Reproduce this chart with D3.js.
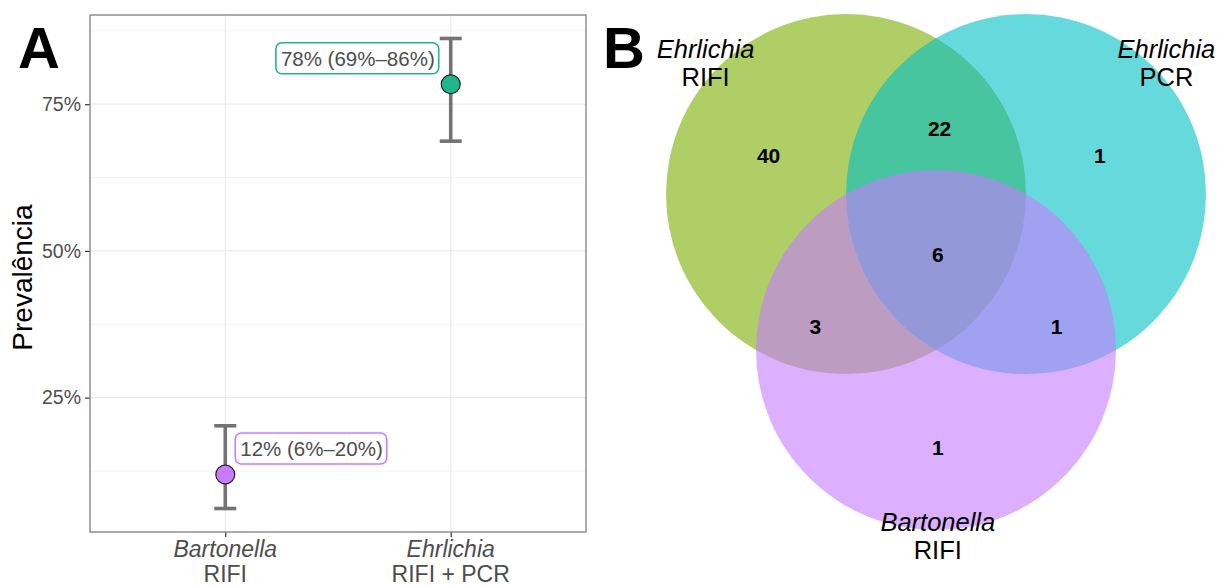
<!DOCTYPE html>
<html>
<head>
<meta charset="utf-8">
<script src="https://cdn.jsdelivr.net/npm/d3@7"></script>
<style>
  body { margin: 0; background: #fff; }
  svg { font-family: "Liberation Sans", Arial, sans-serif; display: block; }
</style>
</head>
<body>
<svg width="1219" height="587"></svg>
<script>
// ------------------- DATA -------------------
// panel A: prevalence with 95% CI
var categories = ["Bartonella", "Ehrlichia"];
var categoryMethods = ["RIFI", "RIFI + PCR"];
var prevalence = [0.119, 0.784];
var lowerCI = [0.061, 0.687];
var upperCI = [0.202, 0.862];
var pointLabels = ["12% (6%\u201320%)", "78% (69%\u201386%)"];
var pointColors = ["#C77CFF", "#22B58A"];
var yTicks = [0.25, 0.5, 0.75];
var yMinorTicks = [0.125, 0.375, 0.625, 0.875];

// panel B: venn diagram
var setNames = ["Ehrlichia", "Ehrlichia", "Bartonella"];
var setMethods = ["RIFI", "PCR", "RIFI"];
var setColors = ["#7CAE00", "#00BFC4", "#C77CFF"];
// regions: E.RIFI only, E.RIFI&PCR, PCR only, all, E.RIFI&Bart, PCR&Bart, Bart only
var regionCounts = [40, 22, 1, 6, 3, 1, 1];
// ------------------- END DATA -------------------

var svg = d3.select("svg");

// ------------------- PANEL A -------------------
var plotLeft = 90, plotRight = 586, plotTop = 15, plotBottom = 532;

var x = d3.scalePoint()
  .domain(categories)
  .range([plotLeft, plotRight])
  .padding(0.6);

var y = d3.scaleLinear()
  .domain([0.021, 0.902])
  .range([plotBottom, plotTop]);

var panelA = svg.append("g");

// grid lines
panelA.selectAll(".minor")
  .data(yMinorTicks)
  .enter()
  .append("line")
  .attr("x1", plotLeft).attr("x2", plotRight)
  .attr("y1", d => y(d)).attr("y2", d => y(d))
  .attr("stroke", "#f3f3f3")
  .attr("stroke-width", 1);

panelA.selectAll(".major")
  .data(yTicks)
  .enter()
  .append("line")
  .attr("x1", plotLeft).attr("x2", plotRight)
  .attr("y1", d => y(d)).attr("y2", d => y(d))
  .attr("stroke", "#ebebeb")
  .attr("stroke-width", 1.2);

panelA.selectAll(".vgrid")
  .data(categories)
  .enter()
  .append("line")
  .attr("x1", d => x(d)).attr("x2", d => x(d))
  .attr("y1", plotTop).attr("y2", plotBottom)
  .attr("stroke", "#ebebeb")
  .attr("stroke-width", 1.2);

// axes
var yAxis = panelA.append("g")
  .attr("transform", "translate(" + plotLeft + ",0)")
  .call(d3.axisLeft(y).tickValues(yTicks).tickFormat(d3.format(".0%")).tickSize(5).tickPadding(4));

var xAxis = panelA.append("g")
  .attr("transform", "translate(0," + plotBottom + ")")
  .call(d3.axisBottom(x).tickSize(5).tickFormat(""));

[yAxis, xAxis].forEach(function(a) {
  a.select(".domain").remove();
  a.selectAll(".tick line").attr("stroke", "#333").attr("stroke-width", 1.2);
});
yAxis.selectAll(".tick text")
  .attr("fill", "#4d4d4d")
  .style("font-size", "19.5px")
  .style("font-family", "Liberation Sans, Arial, sans-serif");

// two-line category labels
var xLabels = panelA.selectAll(".xlab")
  .data(categories)
  .enter()
  .append("text")
  .attr("text-anchor", "middle")
  .attr("fill", "#4d4d4d")
  .style("font-size", "23px");
xLabels.append("tspan")
  .attr("x", d => x(d))
  .attr("y", plotBottom + 25)
  .style("font-style", "italic")
  .text(d => d);
xLabels.append("tspan")
  .attr("x", d => x(d))
  .attr("y", plotBottom + 50)
  .text((d, i) => categoryMethods[i]);

// panel border
panelA.append("rect")
  .attr("x", plotLeft).attr("y", plotTop)
  .attr("width", plotRight - plotLeft).attr("height", plotBottom - plotTop)
  .attr("fill", "none")
  .attr("stroke", "#808080")
  .attr("stroke-width", 1.3);

// y title
svg.append("text")
  .attr("transform", "translate(32," + ((plotTop + plotBottom) / 2 + 4) + ") rotate(-90)")
  .attr("text-anchor", "middle")
  .style("font-size", "28px")
  .attr("fill", "#000")
  .text("Preval\u00eancia");

// error bars
var bars = panelA.selectAll(".err")
  .data(categories)
  .enter()
  .append("g");

bars.append("line")
  .attr("x1", d => x(d)).attr("x2", d => x(d))
  .attr("y1", (d, i) => y(lowerCI[i])).attr("y2", (d, i) => y(upperCI[i]));
bars.append("line")
  .attr("x1", d => x(d) - 11).attr("x2", d => x(d) + 11)
  .attr("y1", (d, i) => y(lowerCI[i])).attr("y2", (d, i) => y(lowerCI[i]));
bars.append("line")
  .attr("x1", d => x(d) - 11).attr("x2", d => x(d) + 11)
  .attr("y1", (d, i) => y(upperCI[i])).attr("y2", (d, i) => y(upperCI[i]));
bars.selectAll("line")
  .attr("stroke", "#737373")
  .attr("stroke-width", 3.6);

// points
panelA.selectAll(".pt")
  .data(categories)
  .enter()
  .append("circle")
  .attr("cx", d => x(d))
  .attr("cy", (d, i) => y(prevalence[i]))
  .attr("r", 9.5)
  .attr("fill", (d, i) => pointColors[i])
  .attr("stroke", "#111")
  .attr("stroke-width", 1.1);

// labels in rounded boxes (first one to the right, second to the left)
categories.forEach(function(c, i) {
  var px = x(c), py = y(prevalence[i]) - 26;
  var g = panelA.append("g");
  var box = g.append("rect");
  var t = g.append("text")
    .attr("y", py)
    .attr("dominant-baseline", "central")
    .attr("fill", "#4d4d4d")
    .style("font-size", "20.5px")
    .text(pointLabels[i]);
  var w = t.node().getComputedTextLength();
  var tx = i === 0 ? px + 15 : px - 16 - w;
  t.attr("x", tx);
  box.attr("x", tx - 5).attr("y", py - 15.5)
    .attr("width", w + 9).attr("height", 31)
    .attr("rx", 6)
    .attr("fill", "#fff")
    .attr("stroke", pointColors[i])
    .attr("stroke-width", 1.6);
});

// ------------------- PANEL B -------------------
var vx = d3.scaleLinear().domain([0, 1]).range([936, 1116]);
var vy = d3.scaleLinear().domain([0, 1]).range([350, 170]);
var circleCenters = [[-0.5, 0.866], [0.5, 0.866], [0, 0]];
var regionPos = [[-0.93, 1.08], [0.02, 1.23], [0.91, 1.08], [0.01, 0.53], [-0.67, 0.13], [0.67, 0.13], [0.01, -0.54]];
var setLabelPos = [[-1.28, 1.625], [1.28, 1.625], [0.01, -1.005]];

var panelB = svg.append("g");

panelB.selectAll(".set")
  .data(setNames)
  .enter()
  .append("circle")
  .attr("cx", (d, i) => vx(circleCenters[i][0]))
  .attr("cy", (d, i) => vy(circleCenters[i][1]))
  .attr("r", vx(1) - vx(0))
  .attr("fill", (d, i) => setColors[i])
  .attr("fill-opacity", 0.6);

panelB.selectAll(".count")
  .data(regionCounts)
  .enter()
  .append("text")
  .attr("x", (d, i) => vx(regionPos[i][0]))
  .attr("y", (d, i) => vy(regionPos[i][1]))
  .attr("text-anchor", "middle")
  .attr("dominant-baseline", "central")
  .style("font-size", "21px")
  .style("font-weight", "bold")
  .attr("fill", "#000")
  .text(d => d);

var setLabels = panelB.selectAll(".setlab")
  .data(setNames)
  .enter()
  .append("text")
  .attr("text-anchor", "middle")
  .style("font-size", "25.5px")
  .attr("fill", "#000");
setLabels.append("tspan")
  .attr("x", (d, i) => vx(setLabelPos[i][0]))
  .attr("y", (d, i) => vy(setLabelPos[i][1]))
  .style("font-style", "italic")
  .text(d => d);
setLabels.append("tspan")
  .attr("x", (d, i) => vx(setLabelPos[i][0]))
  .attr("y", (d, i) => vy(setLabelPos[i][1]) + 28)
  .text((d, i) => setMethods[i]);

// ------------------- PANEL TAGS -------------------
svg.selectAll(".tag")
  .data(["A", "B"])
  .enter()
  .append("text")
  .attr("x", (d, i) => i === 0 ? 18 : 603)
  .attr("y", 68)
  .style("font-size", "58px")
  .style("font-weight", "bold")
  .attr("fill", "#000")
  .text(d => d);
</script>
</body>
</html>
